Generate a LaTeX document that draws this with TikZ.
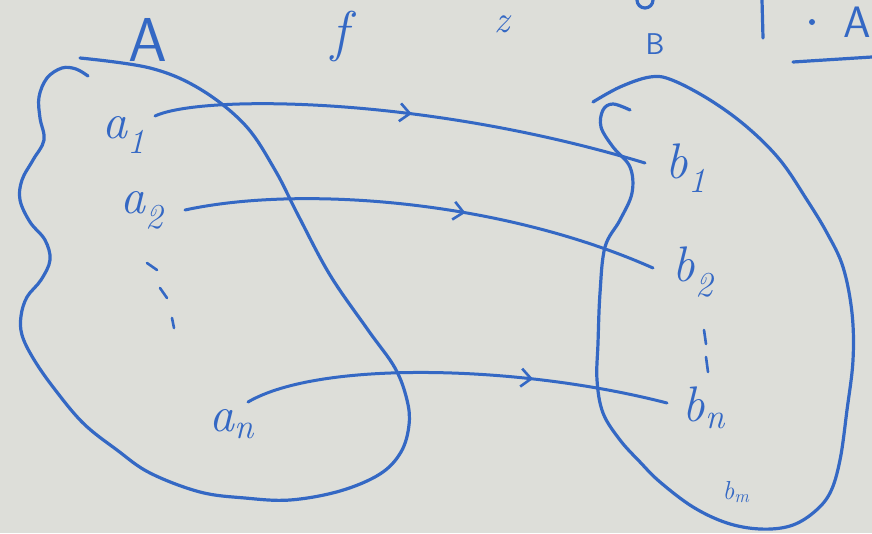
\documentclass[tikz,border=0pt]{standalone}
\usepackage{fontspec}
\usetikzlibrary{arrows.meta,decorations.markings}
\definecolor{board}{RGB}{221,222,217}
\definecolor{ink}{RGB}{52,104,196}
\newcommand{\hsub}[2]{\textit{#1}\textsubscript{\itshape #2}}
\tikzset{
  pen/.style={draw=ink,line width=3.2pt,line cap=round,line join=round},
  lbl/.style={text=ink,inner sep=0pt,font=\fontsize{50}{50}\selectfont},
  maparrow/.style={pen,line width=3pt,postaction={decorate},
    decoration={markings,mark=at position #1 with {\arrow[ink,line width=2.6pt]{Straight Barb[length=10pt,width=18pt]}}}}
}
\begin{document}
\begin{tikzpicture}[x=1pt,y=-1pt]
\useasboundingbox (0,0) rectangle (872,533);
\clip (0,0) rectangle (872,533);
\fill[board] (0,0) rectangle (872,533);
% set A outline
\draw[pen] plot[smooth,tension=0.6] coordinates {(80,58) (150,68) (200,89) (245,125) (275,170) (298,215) (330,275) (368,330) (395,368) (407,400) (409,425) (401,452) (380,474) (340,491) (290,500) (245,498) (200,492) (150,473) (117,450) (83,423) (53,387) (33,358) (22,335) (21,316) (27,297) (41,280) (50,260) (45,240) (30,222) (20,200) (22,180) (33,160) (44,140) (40,118) (39,97) (47,78) (62,68) (76,69) (88,76)};
% set B outline
\draw[pen] plot[smooth,tension=0.6] coordinates {(593,102) (620,87) (650,77) (672,80) (710,100) (747,127) (780,160) (807,200) (827,233) (843,267) (852,313) (853,360) (847,410) (840,460) (830,493) (813,513) (790,526) (760,529) (727,523) (693,507) (660,482) (640,462) (620,440) (603,413) (597,380) (598,343) (600,293) (605,247) (620,220) (632,193) (630,167) (613,147) (601,127) (603,110) (613,104) (630,110)};
% labels
\node[lbl,font=\fontsize{62}{62}\selectfont\sffamily] (A) at (148,40) {A};
\node[lbl,font=\fontsize{56}{56}\selectfont\itshape] (f) at (340,36) {f};
\node[lbl,font=\fontsize{30}{30}\selectfont\sffamily] (B) at (655,44) {B};
\node[lbl] (a1) at (124,135) {\hsub{a}{1}};
\node[lbl] (a2) at (142,210) {\hsub{a}{2}};
\node[lbl] (an) at (232,424) {\hsub{a}{n}};
\node[lbl] (b1) at (686,168) {\hsub{b}{1}};
\node[lbl] (b2) at (693,272) {\hsub{b}{2}};
\node[lbl] (bn) at (704,408) {\hsub{b}{n}};
\node[lbl,font=\fontsize{26}{26}\selectfont] (bm) at (736,492) {\hsub{b}{m}};
% dots
\draw[pen,line width=2.6pt] (147,263) -- (157,270);
\draw[pen,line width=2.6pt] (160,288) -- (167,298);
\draw[pen,line width=2.6pt] (172,318) -- (174,328);
\draw[pen,line width=2.6pt] (704,330) -- (706,344);
\draw[pen,line width=2.6pt] (706,357) -- (708,372);
% partial top text
\node[lbl,font=\fontsize{38}{38}\selectfont\itshape] (t1) at (502,24) {z};
\draw[pen] (637,0) arc[start angle=180,end angle=360,radius=8pt];
\draw[pen] (762,0) -- (763,38);
\fill[ink] (812,22) circle[radius=3pt];
\node[lbl,font=\fontsize{44}{44}\selectfont\sffamily] (t5) at (857,22) {A};
\coordinate (u1) at (793,62);
\coordinate (u2) at (872,57);
\draw[pen] (u1) -- (u2);
% endpoints
\coordinate (s1) at (155,116);
\coordinate (e1) at (645,163);
\coordinate (s2) at (185,210);
\coordinate (e2) at (653,268);
\coordinate (s3) at (248,402);
\coordinate (e3) at (667,403);
% mapping arrows
\draw[maparrow=0.52] (s1) .. controls (200,95) and (420,95) .. (e1);
\draw[maparrow=0.59] (s2) .. controls (300,185) and (500,200) .. (e2);
\draw[maparrow=0.68] (s3) .. controls (320,360) and (520,365) .. (e3);
\end{tikzpicture}
\end{document}
